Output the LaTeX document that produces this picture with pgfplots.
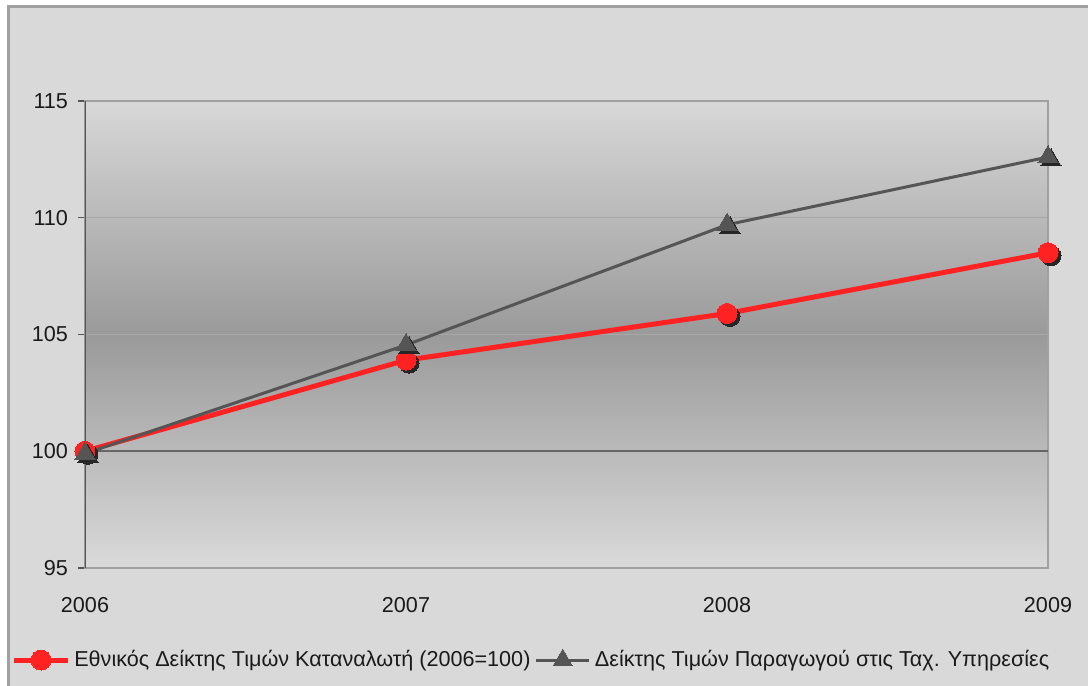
\documentclass[border=0pt]{standalone}
\usepackage{pgfplots}
\pgfplotsset{compat=1.18}
\usepackage{fontspec}
\setmainfont{Liberation Sans}
\definecolor{bgout}{HTML}{D9D9D9}
\definecolor{frame}{HTML}{A0A0A0}
\definecolor{redline}{HTML}{FF2222}
\definecolor{grayline}{HTML}{555555}
\definecolor{shadow}{HTML}{262626}
\definecolor{gridc}{HTML}{A8A8A8}
\definecolor{txt}{HTML}{1A1A1A}
\definecolor{gtop}{HTML}{D8D8D8}
\definecolor{gmid}{HTML}{9A9A9A}
\definecolor{gbot}{HTML}{DADADA}
\pgfplotstableread{
year cpi ppi
2006 100.0 99.9
2007 103.9 104.55
2008 105.9 109.7
2009 108.5 112.6
}\datatable
\begin{document}
\begin{tikzpicture}
\path[use as bounding box] (-42.5pt,-59pt) rectangle (501.5pt,284pt);
\fill[white] (-42.5pt,-59pt) rectangle (501.5pt,284pt);
\filldraw[fill=bgout, draw=frame, line width=1.5pt] (-38.25pt,-70pt) rectangle (510pt,280.75pt);
\begin{axis}[
  at={(0,0)}, anchor=south west,
  scale only axis, width=481.5pt, height=233.5pt,
  xmin=2006, xmax=2009, ymin=95, ymax=115,
  xtick={2006,2007,2008,2009}, xticklabels={2006,2007,2008,2009},
  ytick={95,100,105,110,115}, yticklabels={95,100,105,110,115},
  ytick pos=left, tick align=outside,
  major tick length=3.5pt,
  xtick style={draw=none},
  ytick style={draw=grayline, line width=0.75pt},
  ymajorgrids, grid style={draw=gridc, line width=0.75pt},
  axis line style={draw=frame, line width=0.75pt},
  axis background/.style={top color=gtop, bottom color=gbot, middle color=gmid},
  tick label style={font=\fontsize{10.8}{12}\selectfont, text=txt},
  xticklabel style={anchor=center, yshift=-15pt},
  yticklabel style={xshift=-1.5pt},
  /pgf/number format/assume math mode=true,
  legend columns=2,
  legend style={draw=none, fill=none, at={(0.5,0)}, anchor=center, xshift=-17pt, yshift=-46pt,
    font=\fontsize{10.8}{12}\selectfont, text=txt,
    /tikz/every even column/.append style={column sep=0pt}},
  legend cell align=left,
  legend image code/.code={\draw[mark repeat=2,mark phase=2] plot coordinates {(0cm,0cm) (0.47cm,0cm) (0.94cm,0cm)};},
]
\addlegendimage{redline, line width=2.5pt, mark=*, mark size=5pt, mark options={solid, fill=redline, draw=redline, line width=0pt}}
\addlegendentry{Εθνικός Δείκτης Τιμών Καταναλωτή (2006=100)}
\addlegendimage{grayline, line width=1.5pt, mark=triangle*, mark size=5.5pt, mark options={solid, fill=grayline, draw=grayline, line width=0pt}}
\addlegendentry{Δείκτης Τιμών Παραγωγού στις Ταχ. Υπηρεσίες}
% axis line at 100 and left axis
\draw[draw=grayline!90, line width=0.75pt] (axis cs:2006,100) -- (axis cs:2009,100);
\draw[draw=grayline, line width=0.75pt] (rel axis cs:0,0) -- (rel axis cs:0,1);
% red series
\addplot[forget plot, only marks, mark=*, mark size=5pt, mark options={fill=shadow, draw=shadow, line width=0pt, xshift=1.5pt, yshift=-1.5pt}] table[x=year, y=cpi] {\datatable};
\addplot[forget plot, redline, line width=2.5pt, mark=*, mark size=5pt, mark options={fill=redline, draw=redline, line width=0pt}] table[x=year, y=cpi] {\datatable};
% gray series
\addplot[forget plot, only marks, mark=triangle*, mark size=5.8pt, mark options={fill=shadow, draw=shadow, line width=0pt, xshift=1.5pt, yshift=-1.5pt}] table[x=year, y=ppi] {\datatable};
\addplot[forget plot, grayline, line width=1.5pt, mark=triangle*, mark size=5.8pt, mark options={fill=grayline, draw=grayline, line width=0pt}] table[x=year, y=ppi] {\datatable};
\end{axis}
\end{tikzpicture}
\end{document}
